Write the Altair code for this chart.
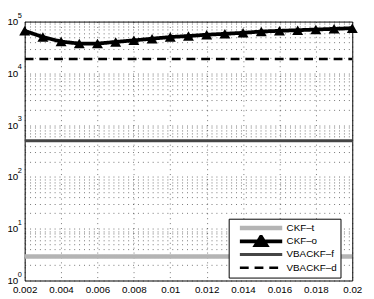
import altair as alt
import pandas as pd

# ---- data ----
x_vals = [0.002, 0.003, 0.004, 0.005, 0.006, 0.007, 0.008, 0.009, 0.010, 0.011,
          0.012, 0.013, 0.014, 0.015, 0.016, 0.017, 0.018, 0.019, 0.020]
ckf_o = [66300, 50300, 41100, 37600, 37600, 40500, 43400, 46700, 50300, 52600,
         55700, 58100, 60600, 64300, 66300, 68200, 70200, 72400, 74600]
ckf_t = 2.9
vbackf_f = 500
vbackf_d = 19000

series = ["CKF–t", "CKF–o", "VBACKF–f", "VBACKF–d"]
colors = ["#b4b4b4", "#000000", "#454545", "#000000"]
widths = [4.5, 2.5, 3, 3]
dashes = [[1, 0], [1, 0], [1, 0], [9, 6]]
legend_shapes = ["M-5.4,0H5.4", "M-5.4,0H5.4M0,-1.2L1.35,1.0L-1.35,1.0Z",
                 "M-5.4,0H5.4", "M-5.4,0H5.4"]

x_ticks = [0.002, 0.004, 0.006, 0.008, 0.010, 0.012, 0.014, 0.016, 0.018, 0.020]
y_grid = [m * 10 ** k for k in range(5) for m in range(1, 10)] + [100000]
exponents = [0, 1, 2, 3, 4, 5]

FONT = "Liberation Sans"

# ---- tables ----
rows = []
for s, v in zip(series, [ckf_t, None, vbackf_f, vbackf_d]):
    if v is None:
        for xv, yv in zip(x_vals, ckf_o):
            rows.append({"x": xv, "y": yv, "s": s})
    else:
        rows.append({"x": x_vals[0], "y": v, "s": s})
        rows.append({"x": x_vals[-1], "y": v, "s": s})
lines_df = pd.DataFrame(rows)
tri_df = pd.DataFrame({"x": x_vals, "y": ckf_o})
exp_df = pd.DataFrame({"y": [10 ** e for e in exponents], "e": [str(e) for e in exponents]})

xscale = alt.Scale(domain=[0.002, 0.02], nice=False, zero=False)
yscale = alt.Scale(type="log", domain=[1, 100000], nice=False)

GRID = dict(gridDash=[1, 4], gridColor="#000000", gridOpacity=0.55)
X = alt.X("x:Q", scale=xscale, title=None,
          axis=alt.Axis(values=x_ticks, format="~g", labelFlush=False, ticks=False,
                        tickSize=0, labelPadding=4, domain=False, **GRID))
Y = alt.Y("y:Q", scale=yscale, title=None,
          axis=alt.Axis(values=y_grid, ticks=False, tickSize=0, labelPadding=7, domain=False,
                        labelExpr="indexof([1,10,100,1000,10000,100000], datum.value) >= 0 ? '10' : ''",
                        labelOverlap=False, labelBaseline="middle", **GRID))

legend = alt.Legend(title=None, orient="none", legendX=208, legendY=201,
                    strokeColor="black", fillColor="white", padding=3,
                    symbolSize=64, symbolOffset=23.5, labelOffset=19.5,
                    rowPadding=0.5, clipHeight=13,
                    labelFont=FONT, labelFontSize=10, labelColor="black",
                    labelExpr="datum.label + '\u00a0\u00a0\u00a0'",
                    symbolFillColor="black", symbolOpacity=1, cornerRadius=0)

color = alt.Color("s:N", scale=alt.Scale(domain=series, range=colors), legend=legend)
dash = alt.StrokeDash("s:N", scale=alt.Scale(domain=series, range=dashes), legend=legend)
sw = alt.StrokeWidth("s:N", scale=alt.Scale(domain=series, range=widths), legend=legend)
shape = alt.Shape("s:N", scale=alt.Scale(domain=series, range=legend_shapes), legend=legend)

base_lines = alt.Chart(lines_df).mark_line(clip=True).encode(
    x=X, y=Y, color=color, strokeDash=dash, strokeWidth=sw, detail="s:N")

tris = alt.Chart(tri_df).mark_point(filled=True, opacity=1, clip=False).encode(
    x=X, y=Y, shape=alt.value("triangle-up"), color=alt.value("black"), size=alt.value(125))

legend_layer = alt.Chart(lines_df).mark_point(filled=True, opacity=1).encode(
    x=X, y=Y, color=color, strokeDash=dash, strokeWidth=sw, shape=shape
).transform_filter("datum.y < 0")

exps = alt.Chart(exp_df).mark_text(align="left", baseline="alphabetic", fontSize=7.5,
                                   font=FONT, dy=-4, color="black").encode(
    x=alt.value(-7), y=Y, text="e:N")

chart = alt.layer(base_lines, tris, legend_layer, exps).properties(
    width=334, height=264,
    autosize=alt.AutoSizeParams(type="none"),
    padding={"left": 17, "top": 11, "right": 14, "bottom": 16},
).configure_view(stroke="black", strokeWidth=1).configure_axis(
    labelFont=FONT, labelFontSize=10, labelColor="black"
)

chart.save("out.html", embed_options={"renderer": "svg", "actions": False})
